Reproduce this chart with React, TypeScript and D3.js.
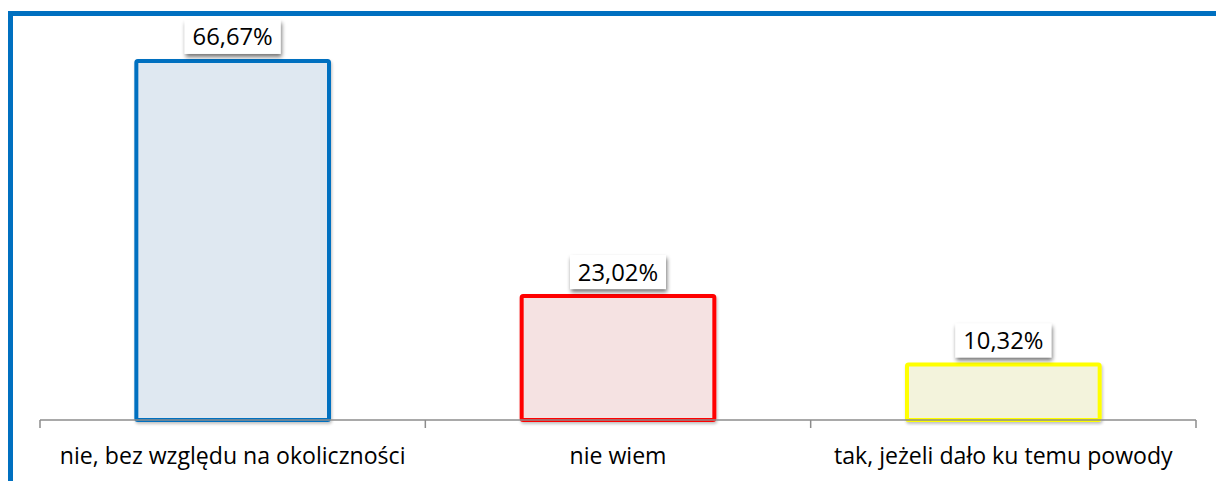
import React from "react";
import * as d3 from "d3";

const categories = ["nie, bez względu na okoliczności", "nie wiem", "tak, jeżeli dało ku temu powody"];
const values = [66.67, 23.02, 10.32];
const labels = ["66,67%", "23,02%", "10,32%"];
const strokeColors = ["#0070C0", "#FF0000", "#FFFF00"];
const fillColors = ["#DFE8F1", "#F5E2E2", "#F3F3DC"];

const W = 1216;
const H = 481;
const FONT = "'Open Sans', sans-serif";

export default function App() {
  const x = d3.scaleBand<string>().domain(categories).range([40, 1196]).paddingInner(0).paddingOuter(0);
  const y = d3.scaleLinear().domain([0, 70]).range([420, 43]);
  const bw = x.bandwidth() * 0.5;
  const ticks = [...categories.map((c) => x(c) as number), 1196];

  return (
    <svg width={W} height={H} style={{ position: "absolute", left: 0, top: 0 }}>
      <defs>
        <filter id="sh" x="-20%" y="-20%" width="140%" height="160%">
          <feGaussianBlur in="SourceAlpha" stdDeviation="2" />
          <feOffset dx="1" dy="3" result="b" />
          <feComponentTransfer>
            <feFuncA type="linear" slope="0.55" />
          </feComponentTransfer>
          <feMerge>
            <feMergeNode />
            <feMergeNode in="SourceGraphic" />
          </feMerge>
        </filter>
        <filter id="bsh" x="-10%" y="-10%" width="120%" height="120%">
          <feGaussianBlur in="SourceAlpha" stdDeviation="1.5" />
          <feOffset dx="1" dy="2" result="b" />
          <feComponentTransfer>
            <feFuncA type="linear" slope="0.25" />
          </feComponentTransfer>
          <feMerge>
            <feMergeNode />
            <feMergeNode in="SourceGraphic" />
          </feMerge>
        </filter>
      </defs>
      <rect x={0} y={0} width={W} height={H} fill="#fff" />
      <rect x={10.5} y={13.5} width={1300} height={600} fill="none" stroke="#0070C0" strokeWidth={5} />

      {categories.map((c, i) => {
        const cx = (x(c) as number) + x.bandwidth() / 2;
        const top = y(values[i]);
        return (
          <g key={c}>
            <rect
              x={cx - bw / 2}
              y={top}
              width={bw}
              height={y(0) - top}
              fill={fillColors[i]}
              stroke={strokeColors[i]}
              strokeWidth={4}
              rx={1.5}
              filter="url(#bsh)"
            />
          </g>
        );
      })}

      <line x1={40} x2={1196} y1={420} y2={420} stroke="#8C8C8C" strokeWidth={1.5} />
      {ticks.map((t, i) => (
        <line key={i} x1={t} x2={t} y1={420} y2={428} stroke="#8C8C8C" strokeWidth={1.5} />
      ))}

      {categories.map((c, i) => {
        const cx = (x(c) as number) + x.bandwidth() / 2;
        const top = y(values[i]);
        const bh = 34;
        const bwid = 96;
        return (
          <g key={"l" + c}>
            <rect x={cx - bwid / 2} y={top - 7 - bh} width={bwid} height={bh} fill="#fff" filter="url(#sh)" />
            <text
              x={cx}
              y={top - 7 - bh / 2 + 8.5}
              textAnchor="middle"
              fontFamily={FONT}
              fontSize={23.8}
              fill="#000"
            >
              {labels[i]}
            </text>
            <text x={cx} y={464} textAnchor="middle" fontFamily={FONT} fontSize={23.1} fill="#000">
              {c}
            </text>
          </g>
        );
      })}
    </svg>
  );
}
